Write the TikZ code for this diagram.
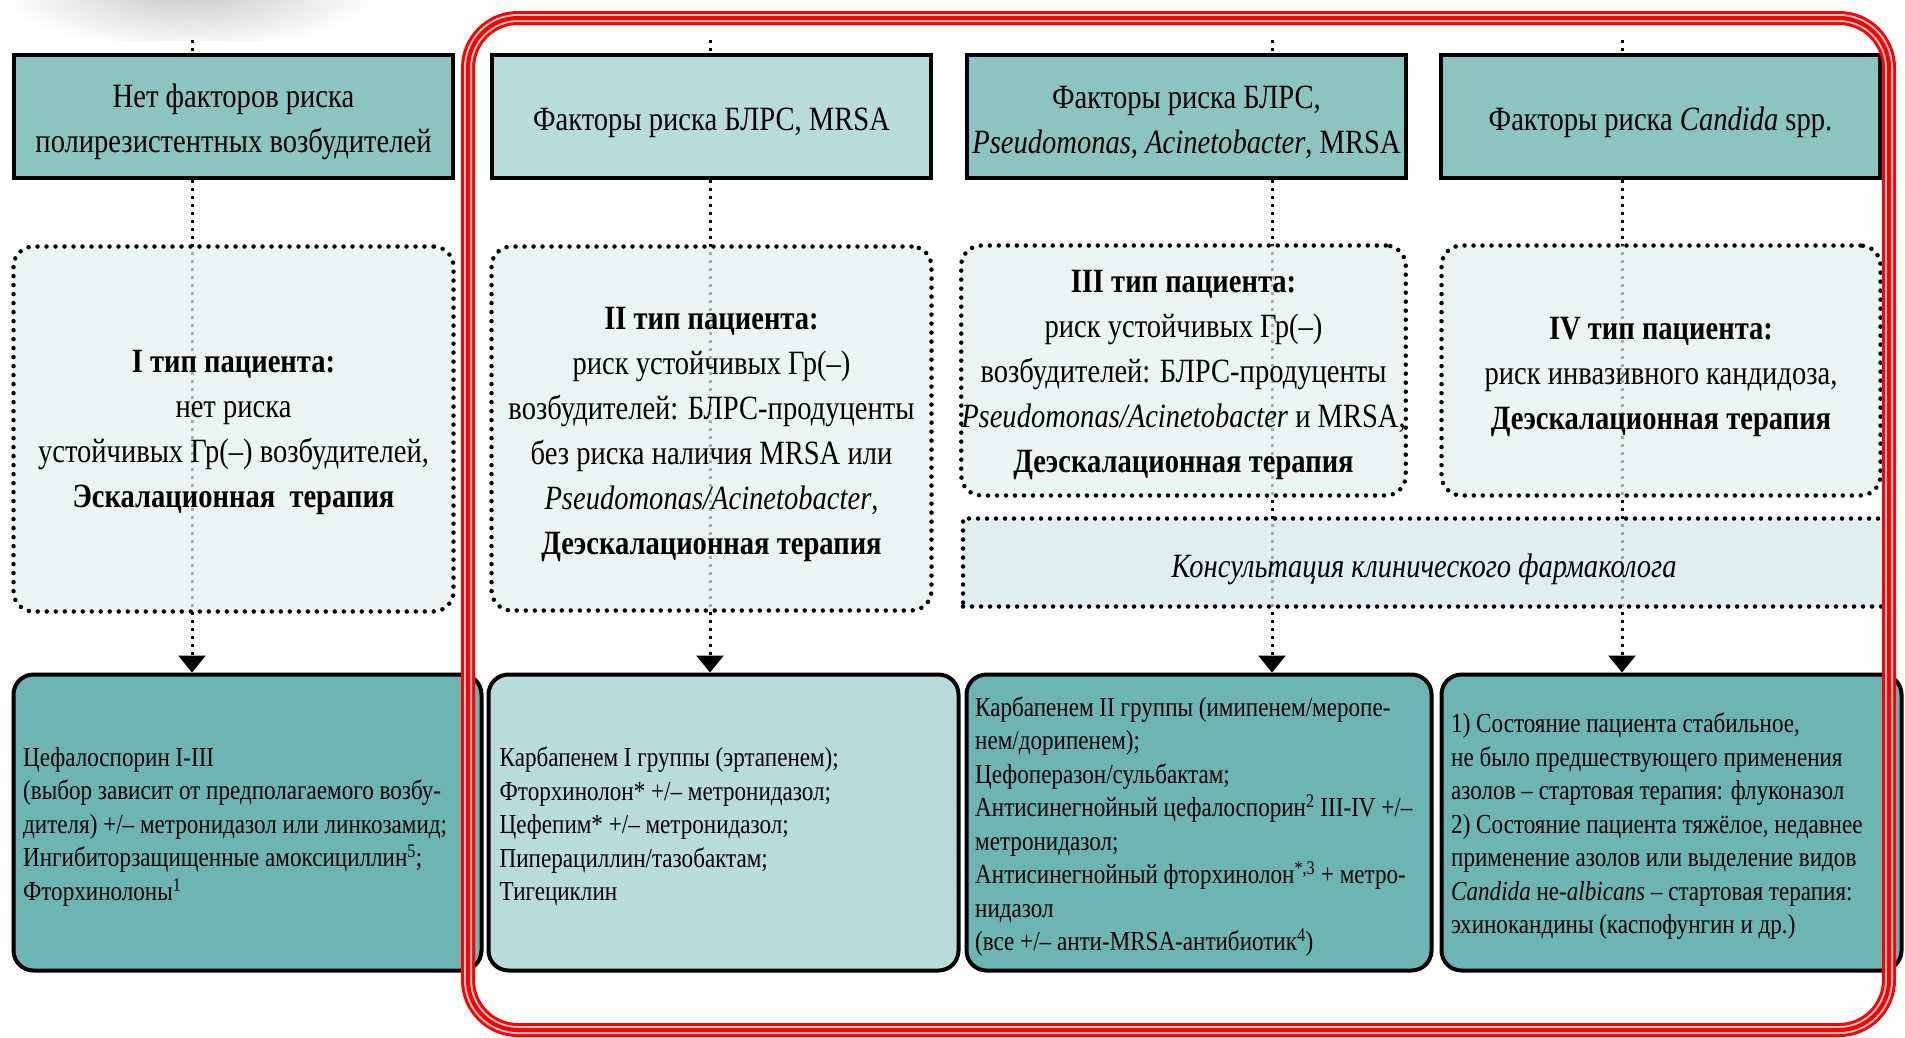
\documentclass[tikz,border=0pt]{standalone}
\usepackage{fontspec}
\setmainfont{Liberation Serif}[FakeStretch=0.84]
\usetikzlibrary{arrows.meta}
\definecolor{topdark}{HTML}{8CC4C1}
\definecolor{toplight}{HTML}{B8DCD9}
\definecolor{botdark}{HTML}{6DB5B2}
\definecolor{midfill}{HTML}{E5F1F0}
\definecolor{consfill}{HTML}{D4EAE8}
\definecolor{framegray}{HTML}{C8C8C8}
\newcommand\upstrut[1]{\rule{0pt}{#1}}
\begin{document}
\begin{tikzpicture}[x=1pt,y=-1pt,
  topbox/.style={draw=black, line width=4.5pt, minimum width=439pt, minimum height=123pt,
    align=center, inner sep=0pt, font=\fontsize{34}{45}\selectfont},
  midbox/.style={draw=black, line width=4.5pt, dash pattern=on 0pt off 9pt, line cap=round,
    rounded corners=20pt, fill=midfill, fill opacity=0.72, text opacity=1, align=center,
    inner sep=0pt, font=\fontsize{34}{45}\selectfont},
  consbox/.style={midbox, rounded corners=0pt, fill=consfill},
  botbox/.style={draw=black, line width=4pt, rounded corners=20pt, minimum height=296pt, inner sep=0pt},
  btext/.style={anchor=west, align=left, inner sep=0pt, yshift=-4pt, font=\fontsize{27.5}{33.5}\selectfont},
  conn/.style={line width=3pt, dash pattern=on 3pt off 5pt, -{Triangle[width=27pt,length=17pt]}},
  tick/.style={line width=3pt, dash pattern=on 3pt off 5pt},
  frame/.style={rounded corners=50pt}
]
\useasboundingbox (0,0) rectangle (1905,1037);
\fill[white] (0,0) rectangle (1905,1037);
\begin{scope}
  \clip (0,0) rectangle (440,40);
  \shade[inner color=black!22, outer color=white] (190,-10) ellipse [x radius=190, y radius=60];
\end{scope}

% column axes
\coordinate (k1) at (192,40);
\coordinate (k2) at (710,40);
\coordinate (k3) at (1272,40);
\coordinate (k4) at (1622,40);

% top boxes
\node[topbox, fill=topdark]  (T1) at (233.5,116.5) {\upstrut{35pt}Нет факторов риска\\полирезистентных возбудителей};
\node[topbox, fill=toplight] (T2) at (711.5,116.5) {\upstrut{35pt}Факторы риска БЛРС, MRSA};
\node[topbox, fill=topdark]  (T3) at (1186.5,116.5) {\upstrut{35pt}Факторы риска БЛРС,\\\textit{Pseudomonas, Acinetobacter}, MRSA};
\node[topbox, fill=topdark]  (T4) at (1660.5,116.5) {\upstrut{35pt}Факторы риска \textit{Candida} spp.};

% bottom boxes
\node[botbox, fill=botdark,  minimum width=468pt] (B1) at (247.5,822.5) {};
\node[botbox, fill=toplight, minimum width=470pt] (B2) at (723.5,822.5) {};
\node[botbox, fill=botdark,  minimum width=465pt] (B3) at (1199,822.5) {};
\node[botbox, fill=botdark,  minimum width=460pt] (B4) at (1671.5,822.5) {};

% connectors
\draw[tick] (k1) -- (T1.north -| k1);
\draw[tick] (k2) -- (T2.north -| k2);
\draw[tick] (k3) -- (T3.north -| k3);
\draw[tick] (k4) -- (T4.north -| k4);
\draw[conn] (T1.south -| k1) -- (B1.north -| k1);
\draw[conn] (T2.south -| k2) -- (B2.north -| k2);
\draw[conn] (T3.south -| k3) -- (B3.north -| k3);
\draw[conn] (T4.south -| k4) -- (B4.north -| k4);

% middle boxes
\node[midbox, minimum width=440pt, minimum height=365pt] (M1) at (233.5,429)
  {\upstrut{30pt}\textbf{I тип пациента:}\\нет риска\\устойчивых Гр(–) возбудителей,\\\textbf{Эскалационная\ \ терапия}};
\node[midbox, minimum width=440pt, minimum height=364pt] (M2) at (711.5,428.5)
  {\upstrut{35pt}\textbf{II тип пациента:}\\риск устойчивых Гр(–)\\возбудителей: БЛРС-продуценты\\без риска наличия MRSA или\\\textit{Pseudomonas/Acinetobacter},\\\textbf{Деэскалационная терапия}};
\node[midbox, minimum width=438pt, minimum height=250pt] (M3) at (1183.5,370.5)
  {\upstrut{32pt}\textbf{III тип пациента:}\\риск устойчивых Гр(–)\\возбудителей: БЛРС-продуценты\\\textit{Pseudomonas/Acinetobacter} и MRSA,\\\textbf{Деэскалационная терапия}};
\node[midbox, minimum width=439pt, minimum height=250pt] (M4) at (1661,370.5)
  {\upstrut{35pt}\textbf{IV тип пациента:}\\риск инвазивного кандидоза,\\\textbf{Деэскалационная терапия}};
\node[consbox, minimum width=922pt, minimum height=88pt] (C) at (1424,562.5)
  {\upstrut{37pt}\textit{Консультация клинического фармаколога}};

% bottom texts
\node[btext] (B1t) at ([xshift=11.5pt]B1.west)
  {Цефалоспорин I-III\\(выбор зависит от предполагаемого возбу-\\дителя) +/– метронидазол или линкозамид;\\Ингибиторзащищенные амоксициллин\textsuperscript{5};\\Фторхинолоны\textsuperscript{1}};
\node[btext] (B2t) at ([xshift=13pt]B2.west)
  {Карбапенем I группы (эртапенем);\\Фторхинолон* +/– метронидазол;\\Цефепим* +/– метронидазол;\\Пиперациллин/тазобактам;\\Тигециклин};
\node[btext] (B3t) at ([xshift=10.5pt]B3.west)
  {Карбапенем II группы (имипенем/меропе-\\нем/дорипенем);\\Цефоперазон/сульбактам;\\Антисинегнойный цефалоспорин\textsuperscript{2} III-IV +/–\\метронидазол;\\Антисинегнойный фторхинолон\textsuperscript{*,3} + метро-\\нидазол\\(все +/– анти-MRSA-антибиотик\textsuperscript{4})};
\node[btext] (B4t) at ([xshift=11.5pt]B4.west)
  {1) Состояние пациента стабильное,\\не было предшествующего применения\\азолов – стартовая терапия: флуконазол\\2) Состояние пациента тяжёлое, недавнее\\применение азолов или выделение видов\\\textit{Candida} не-\textit{albicans} – стартовая терапия:\\эхинокандины (каспофунгин и др.)};

% red frame
\draw[red, line width=14pt, frame] (468,18) rectangle (1889,1030);
\draw[framegray, line width=8pt, frame] (468,18) rectangle (1889,1030);
\draw[red, line width=4pt, frame] (468,18) rectangle (1889,1030);
\end{tikzpicture}
\end{document}
